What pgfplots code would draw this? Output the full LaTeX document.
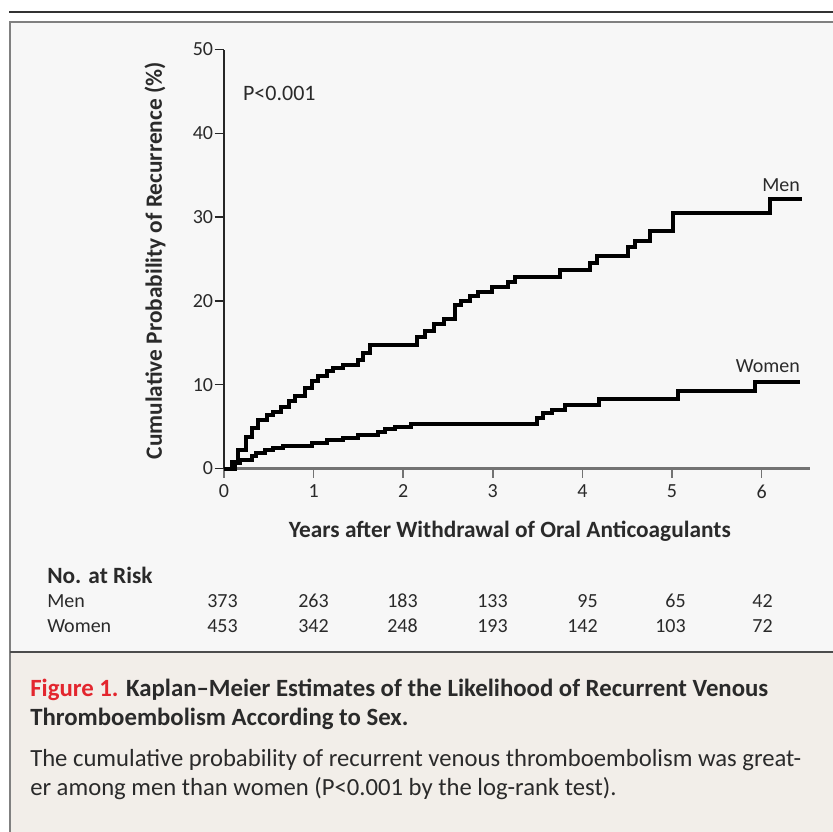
\documentclass[border=0pt]{standalone}
\usepackage{pgfplots}
\pgfplotsset{compat=1.18}
\usepackage{fontspec}
\setmainfont{Carlito}
\definecolor{panelbg}{HTML}{F7F7F7}
\definecolor{capbg}{HTML}{F2EEE9}
\definecolor{txt}{HTML}{2A2A2A}
\definecolor{figred}{HTML}{E3262E}
\newcommand{\fs}{\fontsize{15pt}{18pt}\selectfont}
\newcommand{\fc}{\fontsize{17.5pt}{20pt}\selectfont}
\begin{document}
\begin{tikzpicture}
\useasboundingbox (0,0) rectangle (624.75pt,-624pt);
\begin{scope}[x=0.75pt,y=-0.75pt]
\fill[panelbg] (10,22) rectangle (840,652);
\fill[capbg] (10,652) rectangle (840,840);
\draw[black!50, line width=1.5pt] (10,840) -- (10,22) -- (840,22);
\draw[black!70, line width=1.5pt] (10,652) -- (840,652);
\draw[black!80, line width=2.2pt] (9,12) -- (840,12);
% number at risk
\node[anchor=west, txt, inner sep=0pt] at (47,575) {\fc\bfseries No. at Risk};
\node[anchor=west, txt, inner sep=0pt] at (47,601) {\fs Men};
\node[anchor=west, txt, inner sep=0pt] at (47,626) {\fs Women};
\foreach \xx/\m/\w in {238/373/453, 329/263/342, 418/183/248, 508/133/193, 598/95/142, 686/65/103, 773/42/72}{
  \node[anchor=east, txt, inner sep=0pt] at (\xx,601) {\fs \m};
  \node[anchor=east, txt, inner sep=0pt] at (\xx,626) {\fs \w};
}
% caption
\node[anchor=west, inner sep=0pt] at (30,690) {\fontsize{18.6pt}{22pt}\selectfont\bfseries\textcolor{figred}{Figure 1.} \textcolor{txt}{Kaplan–Meier Estimates of the Likelihood of Recurrent Venous}};
\node[anchor=west, inner sep=0pt, txt] at (30,719) {\fontsize{18.6pt}{22pt}\selectfont\bfseries Thromboembolism According to Sex.};
\node[anchor=west, inner sep=0pt, txt] at (30,760) {\fontsize{18.5pt}{22pt}\selectfont The cumulative probability of recurrent venous thromboembolism was great-};
\node[anchor=west, inner sep=0pt, txt] at (30,789) {\fontsize{18.5pt}{22pt}\selectfont er among men than women (P<0.001 by the log-rank test).};
\end{scope}
\begin{axis}[
  at={(168pt,-351.375pt)}, anchor=south west,
  scale only axis, width=439.5pt, height=314.25pt,
  xmin=0, xmax=6.54, ymin=0, ymax=50,
  axis x line=bottom, axis y line=left,
  x axis line style={-, black!55, line width=1.6pt},
  y axis line style={-, black!85, line width=1.1pt},
  xtick={0,1,2,3,4,5,6}, ytick={0,10,20,30,40,50},
  tick align=outside,
  x tick style={black!55, line width=1.2pt},
  y tick style={black!85, line width=1.1pt},
  major tick length=7pt,
  /pgf/number format/assume math mode=true,
  tick label style={font=\fs, text=txt},
  yticklabel style={inner sep=1pt},
  xticklabel style={inner sep=2pt, yshift=-3pt},
  clip=false,
]
\addplot[const plot, black, line width=3pt] coordinates {
(0,0) (0.086,0.8) (0.16,2.2) (0.25,3.8) (0.31,4.8) (0.38,5.8) (0.48,6.4) (0.55,6.8)
(0.64,7.3) (0.72,8.0) (0.79,8.7) (0.90,9.6) (0.98,10.4) (1.05,11.0) (1.15,11.6)
(1.22,12.0) (1.33,12.4) (1.50,13.0) (1.55,13.8) (1.63,14.7) (2.15,15.7) (2.24,16.4)
(2.34,17.2) (2.45,17.8) (2.58,19.5) (2.65,20.0) (2.75,20.6) (2.84,21.1) (2.99,21.7)
(3.17,22.2) (3.25,22.9) (3.75,23.7) (4.08,24.5) (4.16,25.3) (4.51,26.4) (4.59,27.2)
(4.75,28.3) (5.01,30.5) (6.09,32.2) (6.45,32.2)
};
\addplot[const plot, black, line width=3pt] coordinates {
(0,0) (0.12,0.6) (0.18,1.0) (0.31,1.5) (0.36,1.9) (0.46,2.2) (0.55,2.4) (0.66,2.7)
(0.98,3.0) (1.15,3.4) (1.33,3.6) (1.50,4.0) (1.72,4.3) (1.80,4.7) (1.91,4.9)
(2.09,5.3) (3.49,6.0) (3.56,6.6) (3.66,7.0) (3.81,7.6) (4.18,8.3) (5.07,9.2)
(5.93,10.3) (6.43,10.3)
};
\node[anchor=west, txt, inner sep=0pt] at (axis cs:0.21,44.8) {\fontsize{16.5pt}{19pt}\selectfont P<0.001};
\node[anchor=east, txt, inner sep=0pt] at (axis cs:6.43,33.8) {\fs Men};
\node[anchor=east, txt, inner sep=0pt] at (axis cs:6.43,12.2) {\fs Women};
\node[rotate=90, txt, inner sep=0pt] at (axis cs:-0.77,24.8) {\fc\bfseries Cumulative Probability of Recurrence (\%)};
\node[txt, inner sep=0pt] at (axis cs:3.19,-7.5) {\fc\bfseries Years after Withdrawal of Oral Anticoagulants};
\end{axis}
\end{tikzpicture}
\end{document}
